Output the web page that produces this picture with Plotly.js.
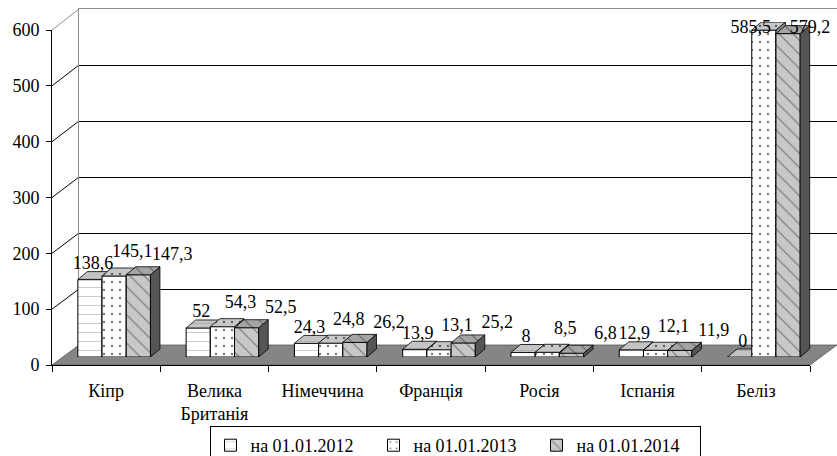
<!DOCTYPE html>
<html>
<head>
<meta charset="utf-8">
<script src="https://cdn.plot.ly/plotly-3.0.1.min.js"></script>
<style>
html, body { margin: 0; padding: 0; background: #ffffff; }
#chart { width: 837px; height: 456px; }
</style>
</head>
<body>
<div id="chart"></div>
<script>
// ---------- DATA ----------
const categories = ['Кіпр', 'Велика<br>Британія', 'Німеччина', 'Франція', 'Росія', 'Іспанія', 'Беліз'];
const seriesNames = ['на 01.01.2012', 'на 01.01.2013', 'на 01.01.2014'];
const values2012 = [138.6, 52, 24.3, 13.9, 8, 12.9, 0];
const values2013 = [145.1, 54.3, 24.8, 13.1, 8.5, 12.1, 585.5];
const values2014 = [147.3, 52.5, 26.2, 25.2, 6.8, 11.9, 579.2];
const yTicks = [0, 100, 200, 300, 400, 500, 600];

// ---------- GEOMETRY / STYLE ----------
const FIG_W = 837, FIG_H = 456;
const L = 52, T = 9, R = 0, B = 91;
const W = FIG_W - L - R;          // plot area width (incl. back wall offset)
const H = FIG_H - T - B;          // plot area height
const plotW = 758, plotH = 335;   // front axes size
const wallDX = 27, wallDY = 20;   // back wall offset
const barDX = 8, barDY = 8;       // bars stand in the middle of the floor
const depthPX = 9.5, depthPY = 8; // bar depth
const YMAX = 600;
const LABEL_MAX = 589;
const FONT = 'Liberation Serif';

const allValues = [values2012, values2013, values2014];
const nCat = categories.length;
const idx = categories.map((c, i) => i);
const xRange = [-0.5, nCat - 0.5];
const pxPerCat = plotW / nCat;
const pxPerUnit = plotH / YMAX;
const bw = 24.2 / pxPerCat;
const ddx = depthPX / pxPerCat;
const ddy = depthPY / pxPerUnit;

const styles = [
  {front: '#ffffff', shape: '-',  fg: '#9a9a9a', size: 9,  sol: 0.12, top: '#c4c4c4', topPat: '-',  side: '#8c8c8c', labelDX: 3,  labelDY: 15, clampDX: 0},
  {front: '#ffffff', shape: '.',  fg: '#000000', size: 8,  sol: 0.08, top: '#c8c8c8', topPat: '.',  side: '#8c8c8c', labelDX: 18, labelDY: 23, clampDX: -13},
  {front: '#c8c8c8', shape: '\\', fg: '#333333', size: 10, sol: 0.12, top: '#a4a4a4', topPat: '\\', side: '#555555', labelDX: 34, labelDY: 19, clampDX: 22}
];

const fmt = v => String(v).replace('.', ',');

const traces = [];
// category carrier for the front x axis
traces.push({
  type: 'scatter', mode: 'markers', x: categories, y: categories.map(() => 0),
  xaxis: 'x', yaxis: 'y', marker: {opacity: 0, size: 1}, hoverinfo: 'skip', showlegend: false
});
// carrier for the back wall axes
traces.push({
  type: 'scatter', mode: 'markers', x: [0], y: [0],
  xaxis: 'x2', yaxis: 'y2', marker: {opacity: 0, size: 1}, hoverinfo: 'skip', showlegend: false
});

allValues.forEach((vals, s) => {
  const st = styles[s];
  const xa = 'x' + (3 + s), ya = 'y' + (3 + s);
  const off = -1.5 * bw + s * bw;
  // front faces
  traces.push({
    type: 'bar', x: idx, y: vals, width: bw, offset: off, name: seriesNames[s],
    xaxis: xa, yaxis: ya,
    marker: {
      color: st.front,
      line: {color: '#000000', width: 1},
      pattern: {shape: st.shape, fgcolor: st.fg, bgcolor: st.front, size: st.size, solidity: st.sol, fillmode: 'overlay'}
    },
    hoverinfo: 'skip'
  });
  // side and top faces
  const tx = [], ty = [];
  const sx = [], sy = [];
  vals.forEach((v, i) => {
    const x0 = i + off, x1 = x0 + bw;
    tx.push(x0, x1, x1 + ddx, x0 + ddx, x0, null);
    ty.push(v, v, v + ddy, v + ddy, v, null);
    sx.push(x1, x1 + ddx, x1 + ddx, x1, x1, null);
    sy.push(0, ddy, v + ddy, v, 0, null);
  });
  traces.push({
    type: 'scatter', mode: 'lines', x: sx, y: sy, xaxis: xa, yaxis: ya,
    fill: 'toself', fillcolor: st.side, line: {color: '#000000', width: 0.8},
    hoverinfo: 'skip', showlegend: false
  });
  traces.push({
    type: 'scatter', mode: 'lines', x: tx, y: ty, xaxis: xa, yaxis: ya,
    fill: 'toself', fillcolor: st.top, line: {color: '#000000', width: 0.8},
    fillpattern: {shape: st.topPat, fgcolor: st.fg, bgcolor: st.top, size: st.size, solidity: st.sol, fillmode: 'overlay'},
    hoverinfo: 'skip', showlegend: false
  });
});

// data labels (on top layer)
allValues.forEach((vals, s) => {
  const st = styles[s];
  const off = -1.5 * bw + s * bw;
  const ly = vals.map(v => v + st.labelDY / pxPerUnit);
  traces.push({
    type: 'scatter', mode: 'text',
    x: vals.map((v, i) => i + off + bw / 2 + (ly[i] > LABEL_MAX ? st.clampDX : st.labelDX) / pxPerCat),
    y: ly.map(y => Math.min(y, LABEL_MAX)),
    text: vals.map(fmt),
    textposition: 'middle center',
    textfont: {family: FONT, size: 18, color: '#000000'},
    cliponaxis: false,
    xaxis: 'x5', yaxis: 'y5', hoverinfo: 'skip', showlegend: false
  });
});

const barXDom = [barDX / W, (barDX + plotW) / W];
const barYDom = [barDY / H, (barDY + plotH) / H];
const hidden = {visible: false, showgrid: false, zeroline: false, fixedrange: true};

const shapes = [];
const fx = px => (px - L) / W;
const fy = py => (FIG_H - B - py) / H;
// floor
const floorPts = [[L, FIG_H - B], [L + plotW, FIG_H - B], [L + plotW + wallDX, FIG_H - B - wallDY], [L + wallDX, FIG_H - B - wallDY]];
shapes.push({
  type: 'path', xref: 'paper', yref: 'paper', layer: 'below',
  path: 'M' + floorPts.map(p => fx(p[0]) + ',' + fy(p[1])).join(' L') + ' Z',
  fillcolor: '#858585', line: {color: '#5a5a5a', width: 0.8}
});
// diagonals from y ticks to the back wall
yTicks.forEach(k => {
  if (k === 0) return;
  shapes.push({
    type: 'line', xref: 'paper', yref: 'paper', layer: 'below',
    x0: 0, y0: (plotH * k / YMAX) / H,
    x1: wallDX / W, y1: (wallDY + (H - wallDY) * k / YMAX) / H,
    line: {color: k === YMAX ? '#8c8c8c' : '#000000', width: 1}
  });
});

const layout = {
  width: FIG_W, height: FIG_H,
  margin: {l: L, r: R, t: T, b: B, autoexpand: false},
  paper_bgcolor: '#ffffff', plot_bgcolor: 'rgba(0,0,0,0)',
  font: {family: FONT, size: 18, color: '#000000'},
  barmode: 'overlay',
  showlegend: true,
  legend: {
    orientation: 'h', x: (455 - L) / W, xanchor: 'center', y: fy(426), yanchor: 'top',
    bordercolor: '#000000', borderwidth: 1, bgcolor: '#ffffff',
    entrywidth: 118, entrywidthmode: 'pixels',
    font: {family: FONT, size: 18, color: '#000000'}, traceorder: 'normal'
  },
  xaxis: {
    domain: [0, plotW / W], range: xRange, type: 'category',
    categoryorder: 'array', categoryarray: categories,
    showline: true, linecolor: '#000000', linewidth: 1,
    ticks: 'outside', tickson: 'boundaries', ticklen: 6, tickcolor: '#000000',
    ticklabelstandoff: 9,
    showgrid: false, zeroline: false, fixedrange: true,
    tickfont: {family: FONT, size: 18, color: '#000000'}, anchor: 'y'
  },
  yaxis: {
    domain: [0, plotH / H], range: [0, YMAX], tickvals: yTicks, ticktext: yTicks.map(String),
    showline: true, linecolor: '#000000', linewidth: 1,
    ticks: 'outside', ticklen: 5, tickcolor: '#000000', ticklabelstandoff: 3,
    showgrid: false, zeroline: false, fixedrange: true,
    tickfont: {family: FONT, size: 18, color: '#000000'}, anchor: 'x'
  },
  xaxis2: {
    domain: [wallDX / W, 1], range: xRange, type: 'linear', anchor: 'y2', side: 'top',
    showline: true, linecolor: '#8c8c8c', linewidth: 1.2,
    showticklabels: false, ticks: '', showgrid: false, zeroline: false, fixedrange: true
  },
  yaxis2: {
    domain: [wallDY / H, 1], range: [0, YMAX], anchor: 'x2',
    showline: true, linecolor: '#8c8c8c', linewidth: 1.2,
    tickvals: yTicks.slice(1, -1), showgrid: true, gridcolor: '#000000', gridwidth: 1,
    showticklabels: false, ticks: '', zeroline: false, fixedrange: true
  },
  xaxis3: Object.assign({domain: barXDom, range: xRange, type: 'linear', anchor: 'y3'}, hidden),
  yaxis3: Object.assign({domain: barYDom, range: [0, YMAX], anchor: 'x3'}, hidden),
  xaxis4: Object.assign({domain: barXDom, range: xRange, type: 'linear', anchor: 'y4', overlaying: 'x3'}, hidden),
  yaxis4: Object.assign({domain: barYDom, range: [0, YMAX], anchor: 'x4', overlaying: 'y3'}, hidden),
  xaxis5: Object.assign({domain: barXDom, range: xRange, type: 'linear', anchor: 'y5', overlaying: 'x3'}, hidden),
  yaxis5: Object.assign({domain: barYDom, range: [0, YMAX], anchor: 'x5', overlaying: 'y3'}, hidden),
  shapes: shapes
};

Plotly.newPlot('chart', traces, layout, {displayModeBar: false, staticPlot: true});
</script>
</body>
</html>
